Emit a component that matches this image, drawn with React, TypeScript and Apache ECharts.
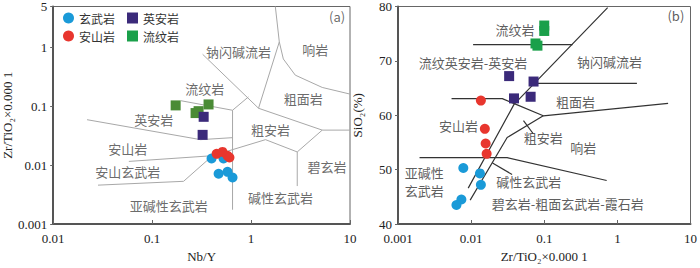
import React, { useEffect, useRef } from "react";
import * as echarts from "echarts";

// ---------- Panel (a): Nb/Y vs Zr/TiO2 ----------
const aBasalt: [number, number][] = [
  [0.399, 0.013], [0.527, 0.013], [0.47, 0.00716], [0.578, 0.0077], [0.65, 0.00617],
];
const aAndesite: [number, number][] = [
  [0.449, 0.0156], [0.515, 0.0168], [0.578, 0.0145], [0.605, 0.0135],
];
const aDacite: [number, number][] = [
  [0.332, 0.0665], [0.324, 0.0328],
];
const aRhyolite: [number, number][] = [
  [0.173, 0.104], [0.275, 0.077], [0.295, 0.083], [0.372, 0.108],
];
const aBoundaries: [number, number][][] = [
  [[1.76, 5], [1.93, 1.25], [2.12, 0.64], [2.8, 0.34], [5.24, 0.21], [10, 0.162]],
  [[1.93, 1.25], [1.19, 0.093], [5.24, 0.0395], [10, 0.0395]],
  [[5.24, 0.0395], [2.93, 0.0168], [2.93, 0.00442]],
  [[0.324, 0.77], [1.19, 0.093]],
  [[0.94, 0.145], [0.65, 0.086], [0.65, 0.00175]],
  [[0.195, 0.125], [0.65, 0.086]],
  [[0.022, 0.0594], [0.309, 0.0272], [0.65, 0.0294]],
  [[0.0582, 0.0116], [0.408, 0.0145], [1.4, 0.0272], [2.93, 0.0168]],
  [[0.0284, 0.00458], [0.208, 0.00532], [0.408, 0.0145]],
];
const aLabels: { name: string; value: [number, number] }[] = [
  { name: "钠闪碱流岩", value: [0.746, 0.861] },
  { name: "响岩", value: [4.46, 0.929] },
  { name: "流纹岩", value: [0.34, 0.202] },
  { name: "粗面岩", value: [3.37, 0.135] },
  { name: "英安岩", value: [0.104, 0.0594] },
  { name: "粗安岩", value: [1.57, 0.041] },
  { name: "安山岩", value: [0.0569, 0.0195] },
  { name: "安山玄武岩", value: [0.0569, 0.0077] },
  { name: "碧玄岩", value: [5.87, 0.00964] },
  { name: "碱性玄武岩", value: [1.98, 0.00283] },
  { name: "亚碱性玄武岩", value: [0.147, 0.0021] },
  { name: "(a)", value: [7.41, 3.4] },
];

// ---------- Panel (b): Zr/TiO2 vs SiO2 ----------
const bBasalt: [number, number][] = [
  [0.00782, 50.3], [0.0132, 49.3], [0.0136, 47.2], [0.00736, 44.5], [0.0063, 43.5],
];
const bAndesite: [number, number][] = [
  [0.0136, 62.7], [0.0154, 57.5], [0.0158, 54.8], [0.0163, 52.9],
];
const bDacite: [number, number][] = [
  [0.0331, 67.2], [0.0714, 66.2], [0.0386, 63.1], [0.0651, 63.4],
];
const bRhyolite: [number, number][] = [
  [0.1, 76.5], [0.1, 75.5], [0.0759, 73.2], [0.0807, 72.8],
];
const bBoundaries: [number, number][][] = [
  [[0.736, 79.8], [0.0386, 62.0], [0.00912, 46.6]],
  [[0.01064, 73.0], [0.2436, 73.0]],
  [[0.0714, 65.85], [1.85, 65.85]],
  [[0.0054, 63.06], [0.0267, 63.06], [0.097, 59.9], [4.94, 62.2]],
  [[0.097, 59.9], [0.0311, 55.9], [0.0097, 44.4]],
  [[0.00197, 52.2], [0.0311, 52.2], [0.714, 48.0]],
  [[0.052, 59.0], [0.0707, 56.6]],
  [[0.0196, 51.2], [0.0363, 49.1]],
];
const bLabels: { name: string; value: [number, number] }[] = [
  { name: "流纹岩", value: [0.0398, 75.8] },
  { name: "(b)", value: [6.31, 78.3] },
  { name: "流纹英安岩-英安岩", value: [0.01064, 69.7] },
  { name: "钠闪碱流岩", value: [0.782, 69.9] },
  { name: "粗面岩", value: [0.267, 62.5] },
  { name: "安山岩", value: [0.00671, 58.2] },
  { name: "粗安岩", value: [0.097, 55.9] },
  { name: "响岩", value: [0.341, 54.0] },
  { name: "亚碱性", value: [0.00229, 49.4] },
  { name: "玄武岩", value: [0.00229, 46.1] },
  { name: "碱性玄武岩", value: [0.0612, 47.9] },
  { name: "碧玄岩-粗面玄武岩-霞石岩", value: [0.209, 43.8] },
];

const BLUE = "#1a9ad8";
const RED = "#e8362e";
const PURPLE = "#3b2a7a";
const GREEN_A = "#4a8b35";
const GREEN_B = "#1aa04a";
const SERIF = "'Liberation Serif', 'Times New Roman', serif";
const CJK = "'Noto Sans CJK SC', sans-serif";

export default function App() {
  const ref = useRef<HTMLDivElement>(null);
  useEffect(() => {
    if (!ref.current) return;
    const chart = echarts.init(ref.current, null, { renderer: "svg" });

    const axisCommon = {
      axisLine: { show: true, lineStyle: { color: "#555", width: 2 } },
      splitLine: { show: false },
      axisLabel: { color: "#222", fontSize: 13, fontFamily: SERIF },
      nameTextStyle: { color: "#222", fontSize: 13, fontFamily: SERIF },
    };

    const lineSeries = (lines: [number, number][][], idx: number, color: string, width: number) =>
      lines.map((d) => ({
        type: "line",
        xAxisIndex: idx,
        yAxisIndex: idx,
        data: d,
        symbol: "none",
        silent: true,
        lineStyle: { color, width },
        z: 2,
      }));

    const pts = (name: string, data: [number, number][], idx: number, color: string, symbol: string) => ({
      type: "scatter",
      name,
      xAxisIndex: idx,
      yAxisIndex: idx,
      data,
      symbol,
      symbolSize: 10,
      itemStyle: { color, opacity: 1 },
      z: 5,
    });

    const labels = (data: any[], idx: number, color: string) => ({
      type: "scatter",
      xAxisIndex: idx,
      yAxisIndex: idx,
      data,
      symbolSize: 0,
      silent: true,
      label: {
        show: true,
        position: "inside",
        formatter: (p: any) => p.name,
        color,
        fontSize: 13,
        lineHeight: 14,
        fontFamily: CJK,
      },
      z: 4,
    });

    chart.setOption({
      animation: false,
      grid: [
        { left: 52, top: 2, width: 298, height: 230, show: true, borderColor: "#666", borderWidth: 1 },
        { left: 398, top: 3, width: 300, height: 229, show: true, borderColor: "#666", borderWidth: 1 },
      ],
      legend: [
        {
          left: 58,
          top: 7,
          itemWidth: 11,
          itemHeight: 11,
          itemGap: 12,
          textStyle: { fontSize: 12, color: "#333", fontFamily: CJK },
          data: [
            { name: "玄武岩", icon: "circle", itemStyle: { color: BLUE } },
            { name: "英安岩", icon: "rect", itemStyle: { color: PURPLE } },
          ],
        },
        {
          left: 58,
          top: 25,
          itemWidth: 11,
          itemHeight: 11,
          itemGap: 12,
          textStyle: { fontSize: 12, color: "#333", fontFamily: CJK },
          data: [
            { name: "安山岩", icon: "circle", itemStyle: { color: RED } },
            { name: "流纹岩", icon: "rect", itemStyle: { color: GREEN_B } },
          ],
        },
      ],
      xAxis: [
        {
          ...axisCommon,
          type: "log",
          gridIndex: 0,
          min: 0.01,
          max: 10,
          name: "Nb/Y",
          nameLocation: "middle",
          nameGap: 26,
          axisTick: { show: true, inside: true, length: 4, lineStyle: { color: "#666" } },
        },
        {
          ...axisCommon,
          type: "log",
          gridIndex: 1,
          min: 0.001,
          max: 10,
          name: "Zr/TiO₂×0.000 1",
          nameLocation: "middle",
          nameGap: 26,
          axisTick: { show: true, inside: true, length: 4, lineStyle: { color: "#666" } },
        },
      ],
      yAxis: [
        {
          ...axisCommon,
          type: "log",
          gridIndex: 0,
          min: 0.001,
          max: 5,
          name: "Zr/TiO₂×0.000 1",
          nameLocation: "middle",
          nameGap: 34,
          axisTick: { show: true, inside: false, length: 3, lineStyle: { color: "#666" } },
          axisLabel: { ...axisCommon.axisLabel, margin: 6 },
        },
        {
          ...axisCommon,
          type: "value",
          gridIndex: 1,
          min: 40,
          max: 80,
          interval: 10,
          name: "SiO₂(%)",
          nameLocation: "middle",
          nameGap: 34,
          axisTick: { show: true, inside: false, length: 3, lineStyle: { color: "#666" } },
          axisLabel: { ...axisCommon.axisLabel, margin: 6 },
        },
      ],
      series: [
        ...lineSeries(aBoundaries, 0, "#a8a8a8", 1),
        ...lineSeries(bBoundaries, 1, "#333", 1.2),
        labels(aLabels, 0, "#444"),
        labels(bLabels, 1, "#333"),
        pts("流纹岩", aRhyolite, 0, GREEN_A, "rect"),
        pts("英安岩", aDacite, 0, PURPLE, "rect"),
        pts("玄武岩", aBasalt, 0, BLUE, "circle"),
        pts("安山岩", aAndesite, 0, RED, "circle"),
        pts("流纹岩", bRhyolite, 1, GREEN_B, "rect"),
        pts("英安岩", bDacite, 1, PURPLE, "rect"),
        pts("玄武岩", bBasalt, 1, BLUE, "circle"),
        pts("安山岩", bAndesite, 1, RED, "circle"),
      ],
    });
    return () => chart.dispose();
  }, []);
  return (
    <div
      ref={ref}
      style={{ position: "fixed", left: 0, top: 0, width: 700, height: 268, background: "#fff" }}
    />
  );
}
